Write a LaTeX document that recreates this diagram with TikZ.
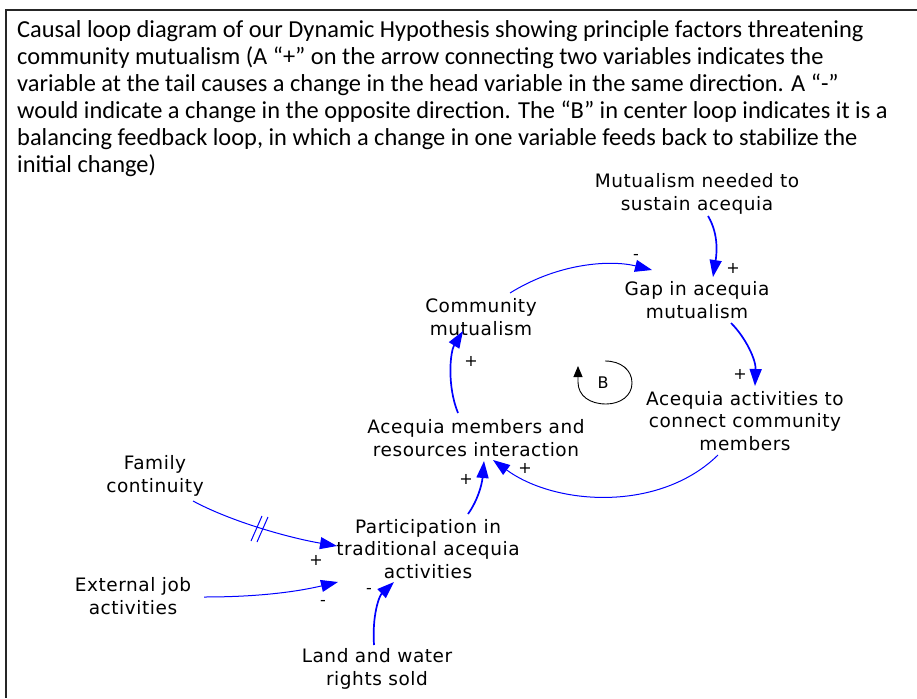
\documentclass[tikz,border=0pt]{standalone}
\usepackage{fontspec}
\setmainfont{Carlito}
\newfontfamily\labelfont[LetterSpace=3]{DejaVu Sans}
\usetikzlibrary{arrows.meta,calc}

\tikzset{
  var/.style={align=center, inner sep=0pt, font=\labelfont\fontsize{18.5}{22.5}\selectfont},
  pol/.style={inner sep=0pt, font=\labelfont\fontsize{16}{16}\selectfont},
  link/.style={draw=blue, line width=1pt, -{Triangle[length=17pt,width=12pt]}},
  thicklink/.style={link, line width=1.7pt},
  frameline/.style={draw=black!85, line width=2.4pt},
}

\begin{document}
\begin{tikzpicture}[x=1pt, y=-1pt]
  \useasboundingbox (0,0) rectangle (917,698);

  % open frame: top and left edges only
  \draw[frameline] (917,10) -- (6,10) -- (6,698);

  % caption
  \node[anchor=north west, align=left, inner sep=0pt,
        font=\fontsize{24.4}{27.1}\selectfont] (cap) at (17,20)
    {Causal loop diagram of our Dynamic Hypothesis showing principle factors threatening\\
     community mutualism (A “+” on the arrow connecting two variables indicates the\\
     variable at the tail causes a change in the head variable in the same direction. A “-”\\
     would indicate a change in the opposite direction. The “B” in center loop indicates it is a\\
     balancing feedback loop, in which a change in one variable feeds back to stabilize the\\
     initial change)};

  % variables
  \node[var] (mn)  at (697,194) {Mutualism needed to\\sustain acequia};
  \node[var] (gap) at (697,300) {Gap in acequia\\mutualism};
  \node[var] (cm)  at (481,317) {Community\\mutualism};
  \node[var] (aa)  at (745,421) {Acequia activities to\\connect community\\members};
  \node[var] (am)  at (476,438) {Acequia members and\\resources interaction};
  \node[var] (fc)  at (155,476) {Family\\continuity};
  \node[var] (pt)  at (428,549) {Participation in\\traditional acequia\\activities};
  \node[var] (ej)  at (133,596) {External job\\activities};
  \node[var] (ls)  at (377,669) {Land and water\\rights sold};

  % causal links
  \draw[thicklink] ($(mn)+(11,22)$) .. controls (720,236) and (716,258) .. ($(gap)+(16,-23)$);
  \draw[link] ($(cm)+(29,-24)$) .. controls (560,262) and (612,260) .. ($(gap)+(-45,-30)$);
  \draw[thicklink] ($(gap)+(34,23)$) .. controls (746,338) and (756,360) .. ($(aa)+(10,-35)$);
  \draw[link] ($(aa)+(-27,34)$) .. controls (660,512) and (556,506) .. ($(am)+(17,22)$);
  \draw[thicklink] ($(am)+(-18,-25)$) .. controls (447,386) and (450,352) .. ($(cm)+(-18,14)$);
  \draw[thicklink] ($(pt)+(40,-35)$) .. controls (478,500) and (482,484) .. ($(am)+(8,23)$);
  \draw[link] ($(fc)+(38,25)$) .. controls (232,522) and (290,538) .. ($(pt)+(-91,-3)$);
  \draw[link] ($(ej)+(71,1)$) .. controls (262,597) and (300,591) .. ($(pt)+(-90,33)$);
  \draw[thicklink] ($(ls)+(-3,-24)$) .. controls (372,616) and (379,596) .. ($(pt)+(-34,33)$);

  % delay mark on the family link
  \draw[blue, line width=1pt] (251,541) -- (262,516);
  \draw[blue, line width=1pt] (257,542) -- (268,517);

  % polarities
  \node[pol] at (733,268) {+};
  \node[pol] at (636,257) {-};
  \node[pol] at (740,374) {+};
  \node[pol] at (525,468) {+};
  \node[pol] at (471,361) {+};
  \node[pol] at (466,479) {+};
  \node[pol] at (316,560) {+};
  \node[pol] at (323,603) {-};
  \node[pol] at (369,591) {-};

  % balancing loop marker
  \node[font=\labelfont\fontsize{16}{16}\selectfont, inner sep=0pt] (bl) at (603,383) {B};
  \draw[black, line width=0.9pt, -{Triangle[length=11pt,width=9pt]}]
    (605,361) .. controls (621,361) and (632,370) .. (632,383)
              .. controls (632,396) and (620,404) .. (606,404)
              .. controls (590,404) and (578,396) .. (578,382)
              -- (578,366);
\end{tikzpicture}
\end{document}
